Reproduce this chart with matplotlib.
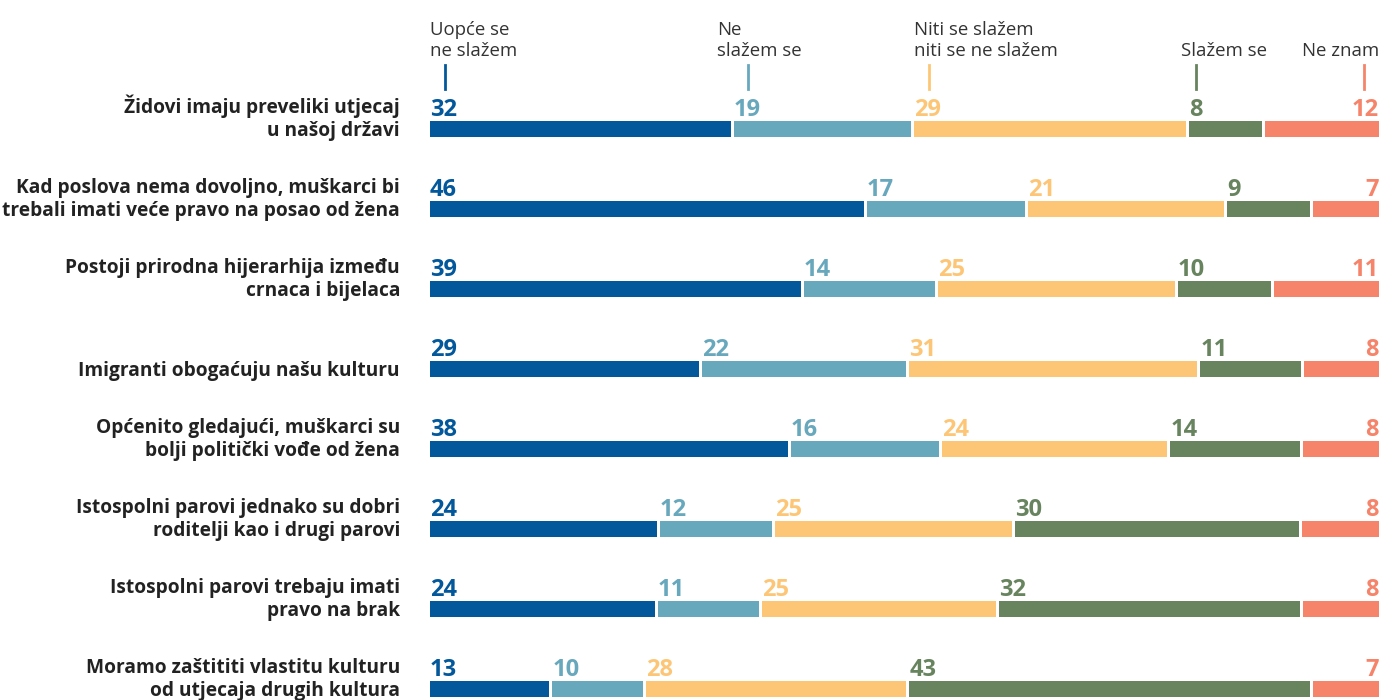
import matplotlib
matplotlib.use("Agg")
import matplotlib.pyplot as plt
import numpy as np

plt.rcParams['font.family'] = ['Open Sans', 'DejaVu Sans']

statements = [
    "Židovi imaju preveliki utjecaj\nu našoj državi",
    "Kad poslova nema dovoljno, muškarci bi\ntrebali imati veće pravo na posao od žena",
    "Postoji prirodna hijerarhija između\ncrnaca i bijelaca",
    "Imigranti obogaćuju našu kulturu",
    "Općenito gledajući, muškarci su\nbolji politički vođe od žena",
    "Istospolni parovi jednako su dobri\nroditelji kao i drugi parovi",
    "Istospolni parovi trebaju imati\npravo na brak",
    "Moramo zaštititi vlastitu kulturu\nod utjecaja drugih kultura",
]
categories = ["Uopće se\nne slažem", "Ne\nslažem se", "Niti se slažem\nniti se ne slažem",
              "Slažem se", "Ne znam"]
strongly_disagree = [32, 46, 39, 29, 38, 24, 24, 13]
disagree = [19, 17, 14, 22, 16, 12, 11, 10]
neutral = [29, 21, 25, 31, 24, 25, 25, 28]
agree = [8, 9, 10, 11, 14, 30, 32, 43]
dont_know = [12, 7, 11, 8, 8, 8, 8, 7]
colors = ["#02589a", "#68a8bd", "#fdc677", "#67845f", "#f5846a"]

series = [strongly_disagree, disagree, neutral, agree, dont_know]
data = np.array(series, dtype=float).T  # rows x categories

W, H = 1383, 700
fig = plt.figure(figsize=(W / 100, H / 100), dpi=100)
x0, x1 = 430, 1379
ax = fig.add_axes([x0 / W, 0, (x1 - x0) / W, 1])
ax.set_xlim(0, 100)
# row i centred at pixel 129 + 80*i
ax.set_ylim((H - 129) / 80, -129 / 80)
ax.axis('off')

px = 1 / 80.0
bar_h = 16 * px
gap = 3 * 100.0 / (x1 - x0)
for i in range(len(statements)):
    vals = data[i]
    scale = 100.0 / vals.sum()
    left = 0.0
    n = len(vals)
    for j, v in enumerate(vals):
        w = v * scale
        draw_w = w - gap if j < n - 1 else w
        ax.barh(i, draw_w, left=left, height=bar_h, color=colors[j], linewidth=0)
        ty = i - bar_h / 2 - 5 * px
        if j < n - 1:
            ax.text(left, ty, f"{int(v)}", color=colors[j], fontsize=17,
                    fontweight='bold', ha='left', va='baseline')
        else:
            ax.text(100, ty, f"{int(v)}", color=colors[j], fontsize=17,
                    fontweight='bold', ha='right', va='baseline')
        left += w
    fig.text(400 / W, 1 - (129 + 80 * i + 7) / H, statements[i], ha='right',
             va='baseline', fontsize=13.8, fontweight='bold', color='#222222',
             linespacing=1.22)

# header
hdr = [
    (430, 445, 'left'),
    (717, 748, 'left'),
    (914, 929, 'left'),
    (1181, 1196, 'left'),
    (1379, 1364, 'right'),
]
for (tx, tk, ha), lab, c in zip(hdr, categories, colors):
    fig.text(tx / W, 1 - 56 / H, lab, ha=ha, va='baseline', fontsize=13.4,
             color='#333333', linespacing=1.22)
    fig.add_artist(plt.Line2D([tk / W, tk / W], [1 - 65 / H, 1 - 89 / H],
                              color=c, linewidth=2.0))

fig.savefig("out.png", dpi=100)
